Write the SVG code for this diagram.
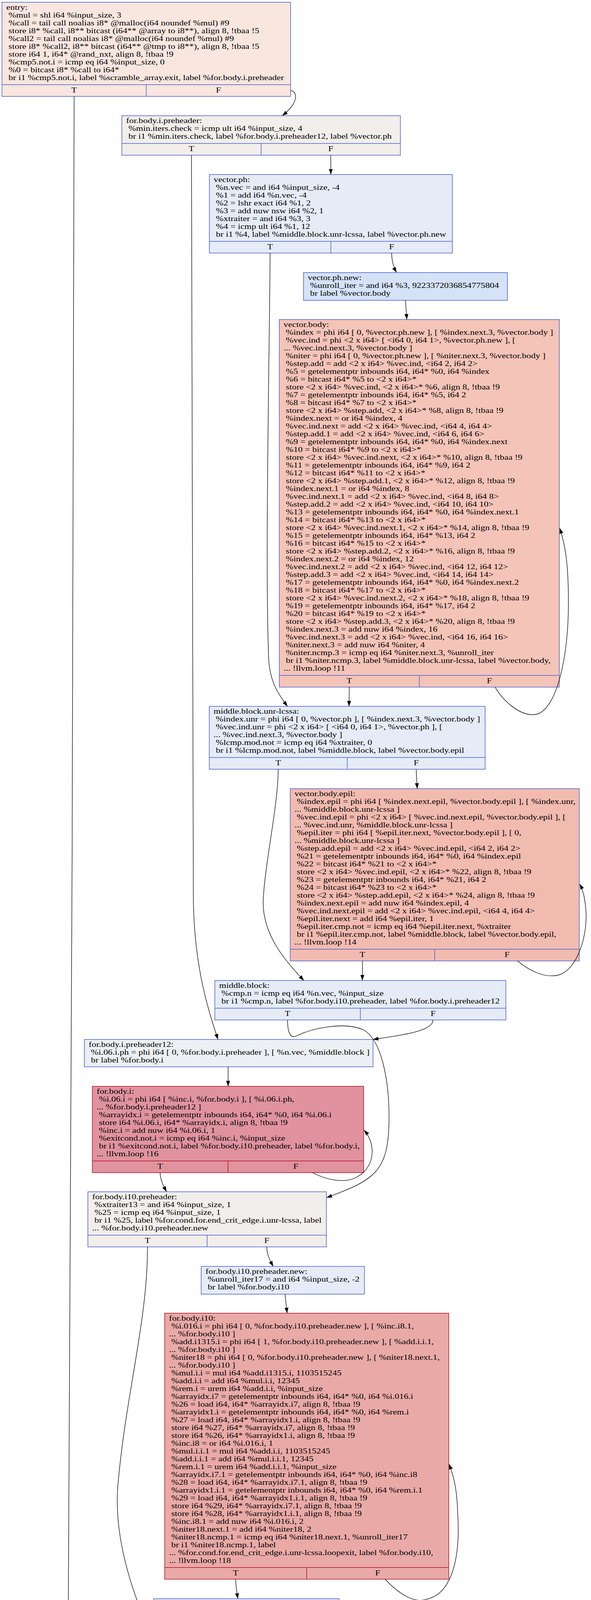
<svg xmlns="http://www.w3.org/2000/svg" width="1513" height="5031" viewBox="0 0 1513 5031">
<style>
.t{font-family:"Liberation Serif","Times New Roman",serif;font-size:18.67px;fill:#000}
.p{font-family:"Liberation Serif","Times New Roman",serif;font-size:18.67px;fill:#000;text-anchor:middle}
.b{stroke:#4b5fcf;stroke-width:1.5}
.h{stroke:#b70d28;stroke-width:1.5}
.s{fill:none}
.e{fill:none;stroke:#000;stroke-width:1.3;marker-end:url(#ah)}
</style>
<defs>
<marker id="ah" markerUnits="userSpaceOnUse" markerWidth="14" markerHeight="10" refX="14" refY="5" orient="auto"><path d="M0,0L14,5L0,10z" fill="#000"/></marker>
</defs>
<rect x="0" y="0" width="1513" height="5031" fill="#fff"/>

<g id="entry">
<rect class="b" x="5" y="5.7" width="739" height="241" fill="#f8e6df"/>
<path class="b s" d="M5,216.7H744M374.5,216.7V246.7"/>
<g transform="translate(16,0) scale(1.2536,1)"><text class="t">
<tspan x="0" y="24.9">entry:</tspan>
<tspan x="4.67" y="44.9">%mul = shl i64 %input_size, 3</tspan>
<tspan x="4.67" y="64.9">%call = tail call noalias i8* @malloc(i64 noundef %mul) #9</tspan>
<tspan x="4.67" y="84.9">store i8* %call, i8** bitcast (i64** @array to i8**), align 8, !tbaa !5</tspan>
<tspan x="4.67" y="104.9">%call2 = tail call noalias i8* @malloc(i64 noundef %mul) #9</tspan>
<tspan x="4.67" y="124.9">store i8* %call2, i8** bitcast (i64** @tmp to i8**), align 8, !tbaa !5</tspan>
<tspan x="4.67" y="144.9">store i64 1, i64* @rand_nxt, align 8, !tbaa !9</tspan>
<tspan x="4.67" y="164.9">%cmp5.not.i = icmp eq i64 %input_size, 0</tspan>
<tspan x="4.67" y="184.9">%0 = bitcast i8* %call to i64*</tspan>
<tspan x="4.67" y="204.9">br i1 %cmp5.not.i, label %scramble_array.exit, label %for.body.i.preheader</tspan>
</text></g>
<text class="p" transform="translate(189.75,236.7) scale(1.2536,1)">T</text>
<text class="p" transform="translate(559.25,236.7) scale(1.2536,1)">F</text>
</g>

<g id="for.body.i.preheader">
<rect class="b" x="312" y="296.3" width="713" height="101" fill="#f2eeeb"/>
<path class="b s" d="M312,367.3H1025M668.5,367.3V397.3"/>
<g transform="translate(323,0) scale(1.2536,1)"><text class="t">
<tspan x="0" y="315.5">for.body.i.preheader:</tspan>
<tspan x="4.67" y="335.5">%min.iters.check = icmp ult i64 %input_size, 4</tspan>
<tspan x="4.67" y="355.5">br i1 %min.iters.check, label %for.body.i.preheader12, label %vector.ph</tspan>
</text></g>
<text class="p" transform="translate(490.25,387.3) scale(1.2536,1)">T</text>
<text class="p" transform="translate(846.75,387.3) scale(1.2536,1)">F</text>
</g>

<g id="vector.ph">
<rect class="b" x="536" y="446.7" width="622" height="201" fill="#e5ecf7"/>
<path class="b s" d="M536,617.7H1158M847,617.7V647.7"/>
<g transform="translate(547,0) scale(1.2536,1)"><text class="t">
<tspan x="0" y="465.9">vector.ph:</tspan>
<tspan x="4.67" y="485.9">%n.vec = and i64 %input_size, -4</tspan>
<tspan x="4.67" y="505.9">%1 = add i64 %n.vec, -4</tspan>
<tspan x="4.67" y="525.9">%2 = lshr exact i64 %1, 2</tspan>
<tspan x="4.67" y="545.9">%3 = add nuw nsw i64 %2, 1</tspan>
<tspan x="4.67" y="565.9">%xtraiter = and i64 %3, 3</tspan>
<tspan x="4.67" y="585.9">%4 = icmp ult i64 %1, 12</tspan>
<tspan x="4.67" y="605.9">br i1 %4, label %middle.block.unr-lcssa, label %vector.ph.new</tspan>
</text></g>
<text class="p" transform="translate(691.5,637.7) scale(1.2536,1)">T</text>
<text class="p" transform="translate(1002.5,637.7) scale(1.2536,1)">F</text>
</g>

<g id="vector.ph.new">
<rect class="b" x="777" y="697.7" width="522" height="71" fill="#d5e2f8"/>
<g transform="translate(788,0) scale(1.2536,1)"><text class="t">
<tspan x="0" y="716.9">vector.ph.new:</tspan>
<tspan x="4.67" y="736.9">%unroll_iter = and i64 %3, 9223372036854775804</tspan>
<tspan x="4.67" y="756.9">br label %vector.body</tspan>
</text></g>
</g>

<g id="vector.body">
<rect class="b" x="715" y="818" width="717" height="941" fill="#f5c4b8"/>
<path class="b s" d="M715,1729H1432M1073.5,1729V1759"/>
<g transform="translate(726,0) scale(1.2536,1)"><text class="t">
<tspan x="0" y="837.2">vector.body:</tspan>
<tspan x="4.67" y="857.2">%index = phi i64 [ 0, %vector.ph.new ], [ %index.next.3, %vector.body ]</tspan>
<tspan x="4.67" y="877.2">%vec.ind = phi &lt;2 x i64&gt; [ &lt;i64 0, i64 1&gt;, %vector.ph.new ], [</tspan>
<tspan x="0" y="897.2">... %vec.ind.next.3, %vector.body ]</tspan>
<tspan x="4.67" y="917.2">%niter = phi i64 [ 0, %vector.ph.new ], [ %niter.next.3, %vector.body ]</tspan>
<tspan x="4.67" y="937.2">%step.add = add &lt;2 x i64&gt; %vec.ind, &lt;i64 2, i64 2&gt;</tspan>
<tspan x="4.67" y="957.2">%5 = getelementptr inbounds i64, i64* %0, i64 %index</tspan>
<tspan x="4.67" y="977.2">%6 = bitcast i64* %5 to &lt;2 x i64&gt;*</tspan>
<tspan x="4.67" y="997.2">store &lt;2 x i64&gt; %vec.ind, &lt;2 x i64&gt;* %6, align 8, !tbaa !9</tspan>
<tspan x="4.67" y="1017.2">%7 = getelementptr inbounds i64, i64* %5, i64 2</tspan>
<tspan x="4.67" y="1037.2">%8 = bitcast i64* %7 to &lt;2 x i64&gt;*</tspan>
<tspan x="4.67" y="1057.2">store &lt;2 x i64&gt; %step.add, &lt;2 x i64&gt;* %8, align 8, !tbaa !9</tspan>
<tspan x="4.67" y="1077.2">%index.next = or i64 %index, 4</tspan>
<tspan x="4.67" y="1097.2">%vec.ind.next = add &lt;2 x i64&gt; %vec.ind, &lt;i64 4, i64 4&gt;</tspan>
<tspan x="4.67" y="1117.2">%step.add.1 = add &lt;2 x i64&gt; %vec.ind, &lt;i64 6, i64 6&gt;</tspan>
<tspan x="4.67" y="1137.2">%9 = getelementptr inbounds i64, i64* %0, i64 %index.next</tspan>
<tspan x="4.67" y="1157.2">%10 = bitcast i64* %9 to &lt;2 x i64&gt;*</tspan>
<tspan x="4.67" y="1177.2">store &lt;2 x i64&gt; %vec.ind.next, &lt;2 x i64&gt;* %10, align 8, !tbaa !9</tspan>
<tspan x="4.67" y="1197.2">%11 = getelementptr inbounds i64, i64* %9, i64 2</tspan>
<tspan x="4.67" y="1217.2">%12 = bitcast i64* %11 to &lt;2 x i64&gt;*</tspan>
<tspan x="4.67" y="1237.2">store &lt;2 x i64&gt; %step.add.1, &lt;2 x i64&gt;* %12, align 8, !tbaa !9</tspan>
<tspan x="4.67" y="1257.2">%index.next.1 = or i64 %index, 8</tspan>
<tspan x="4.67" y="1277.2">%vec.ind.next.1 = add &lt;2 x i64&gt; %vec.ind, &lt;i64 8, i64 8&gt;</tspan>
<tspan x="4.67" y="1297.2">%step.add.2 = add &lt;2 x i64&gt; %vec.ind, &lt;i64 10, i64 10&gt;</tspan>
<tspan x="4.67" y="1317.2">%13 = getelementptr inbounds i64, i64* %0, i64 %index.next.1</tspan>
<tspan x="4.67" y="1337.2">%14 = bitcast i64* %13 to &lt;2 x i64&gt;*</tspan>
<tspan x="4.67" y="1357.2">store &lt;2 x i64&gt; %vec.ind.next.1, &lt;2 x i64&gt;* %14, align 8, !tbaa !9</tspan>
<tspan x="4.67" y="1377.2">%15 = getelementptr inbounds i64, i64* %13, i64 2</tspan>
<tspan x="4.67" y="1397.2">%16 = bitcast i64* %15 to &lt;2 x i64&gt;*</tspan>
<tspan x="4.67" y="1417.2">store &lt;2 x i64&gt; %step.add.2, &lt;2 x i64&gt;* %16, align 8, !tbaa !9</tspan>
<tspan x="4.67" y="1437.2">%index.next.2 = or i64 %index, 12</tspan>
<tspan x="4.67" y="1457.2">%vec.ind.next.2 = add &lt;2 x i64&gt; %vec.ind, &lt;i64 12, i64 12&gt;</tspan>
<tspan x="4.67" y="1477.2">%step.add.3 = add &lt;2 x i64&gt; %vec.ind, &lt;i64 14, i64 14&gt;</tspan>
<tspan x="4.67" y="1497.2">%17 = getelementptr inbounds i64, i64* %0, i64 %index.next.2</tspan>
<tspan x="4.67" y="1517.2">%18 = bitcast i64* %17 to &lt;2 x i64&gt;*</tspan>
<tspan x="4.67" y="1537.2">store &lt;2 x i64&gt; %vec.ind.next.2, &lt;2 x i64&gt;* %18, align 8, !tbaa !9</tspan>
<tspan x="4.67" y="1557.2">%19 = getelementptr inbounds i64, i64* %17, i64 2</tspan>
<tspan x="4.67" y="1577.2">%20 = bitcast i64* %19 to &lt;2 x i64&gt;*</tspan>
<tspan x="4.67" y="1597.2">store &lt;2 x i64&gt; %step.add.3, &lt;2 x i64&gt;* %20, align 8, !tbaa !9</tspan>
<tspan x="4.67" y="1617.2">%index.next.3 = add nuw i64 %index, 16</tspan>
<tspan x="4.67" y="1637.2">%vec.ind.next.3 = add &lt;2 x i64&gt; %vec.ind, &lt;i64 16, i64 16&gt;</tspan>
<tspan x="4.67" y="1657.2">%niter.next.3 = add nuw i64 %niter, 4</tspan>
<tspan x="4.67" y="1677.2">%niter.ncmp.3 = icmp eq i64 %niter.next.3, %unroll_iter</tspan>
<tspan x="4.67" y="1697.2">br i1 %niter.ncmp.3, label %middle.block.unr-lcssa, label %vector.body,</tspan>
<tspan x="0" y="1717.2">... !llvm.loop !11</tspan>
</text></g>
<text class="p" transform="translate(894.25,1749) scale(1.2536,1)">T</text>
<text class="p" transform="translate(1252.75,1749) scale(1.2536,1)">F</text>
</g>

<g id="middle.block.unr-lcssa">
<rect class="b" x="535.7" y="1808.3" width="706.3" height="161" fill="#e5ecf7"/>
<path class="b s" d="M535.7,1939.3H1242M888.85,1939.3V1969.3"/>
<g transform="translate(546.7,0) scale(1.2536,1)"><text class="t">
<tspan x="0" y="1827.5">middle.block.unr-lcssa:</tspan>
<tspan x="4.67" y="1847.5">%index.unr = phi i64 [ 0, %vector.ph ], [ %index.next.3, %vector.body ]</tspan>
<tspan x="4.67" y="1867.5">%vec.ind.unr = phi &lt;2 x i64&gt; [ &lt;i64 0, i64 1&gt;, %vector.ph ], [</tspan>
<tspan x="0" y="1887.5">... %vec.ind.next.3, %vector.body ]</tspan>
<tspan x="4.67" y="1907.5">%lcmp.mod.not = icmp eq i64 %xtraiter, 0</tspan>
<tspan x="4.67" y="1927.5">br i1 %lcmp.mod.not, label %middle.block, label %vector.body.epil</tspan>
</text></g>
<text class="p" transform="translate(712.3,1959.3) scale(1.2536,1)">T</text>
<text class="p" transform="translate(1065.4,1959.3) scale(1.2536,1)">F</text>
</g>

<g id="vector.body.epil">
<rect class="b" x="743" y="2019" width="740" height="441" fill="#f2bbb0"/>
<path class="b s" d="M743,2430H1483M1113,2430V2460"/>
<g transform="translate(754,0) scale(1.2536,1)"><text class="t">
<tspan x="0" y="2038.2">vector.body.epil:</tspan>
<tspan x="4.67" y="2058.2">%index.epil = phi i64 [ %index.next.epil, %vector.body.epil ], [ %index.unr,</tspan>
<tspan x="0" y="2078.2">... %middle.block.unr-lcssa ]</tspan>
<tspan x="4.67" y="2098.2">%vec.ind.epil = phi &lt;2 x i64&gt; [ %vec.ind.next.epil, %vector.body.epil ], [</tspan>
<tspan x="0" y="2118.2">... %vec.ind.unr, %middle.block.unr-lcssa ]</tspan>
<tspan x="4.67" y="2138.2">%epil.iter = phi i64 [ %epil.iter.next, %vector.body.epil ], [ 0,</tspan>
<tspan x="0" y="2158.2">... %middle.block.unr-lcssa ]</tspan>
<tspan x="4.67" y="2178.2">%step.add.epil = add &lt;2 x i64&gt; %vec.ind.epil, &lt;i64 2, i64 2&gt;</tspan>
<tspan x="4.67" y="2198.2">%21 = getelementptr inbounds i64, i64* %0, i64 %index.epil</tspan>
<tspan x="4.67" y="2218.2">%22 = bitcast i64* %21 to &lt;2 x i64&gt;*</tspan>
<tspan x="4.67" y="2238.2">store &lt;2 x i64&gt; %vec.ind.epil, &lt;2 x i64&gt;* %22, align 8, !tbaa !9</tspan>
<tspan x="4.67" y="2258.2">%23 = getelementptr inbounds i64, i64* %21, i64 2</tspan>
<tspan x="4.67" y="2278.2">%24 = bitcast i64* %23 to &lt;2 x i64&gt;*</tspan>
<tspan x="4.67" y="2298.2">store &lt;2 x i64&gt; %step.add.epil, &lt;2 x i64&gt;* %24, align 8, !tbaa !9</tspan>
<tspan x="4.67" y="2318.2">%index.next.epil = add nuw i64 %index.epil, 4</tspan>
<tspan x="4.67" y="2338.2">%vec.ind.next.epil = add &lt;2 x i64&gt; %vec.ind.epil, &lt;i64 4, i64 4&gt;</tspan>
<tspan x="4.67" y="2358.2">%epil.iter.next = add i64 %epil.iter, 1</tspan>
<tspan x="4.67" y="2378.2">%epil.iter.cmp.not = icmp eq i64 %epil.iter.next, %xtraiter</tspan>
<tspan x="4.67" y="2398.2">br i1 %epil.iter.cmp.not, label %middle.block, label %vector.body.epil,</tspan>
<tspan x="0" y="2418.2">... !llvm.loop !14</tspan>
</text></g>
<text class="p" transform="translate(928,2450) scale(1.2536,1)">T</text>
<text class="p" transform="translate(1298,2450) scale(1.2536,1)">F</text>
</g>

<g id="middle.block">
<rect class="b" x="550" y="2510" width="745" height="101" fill="#e5ecf7"/>
<path class="b s" d="M550,2581H1295M922.5,2581V2611"/>
<g transform="translate(561,0) scale(1.2536,1)"><text class="t">
<tspan x="0" y="2529.2">middle.block:</tspan>
<tspan x="4.67" y="2549.2">%cmp.n = icmp eq i64 %n.vec, %input_size</tspan>
<tspan x="4.67" y="2569.2">br i1 %cmp.n, label %for.body.i10.preheader, label %for.body.i.preheader12</tspan>
</text></g>
<text class="p" transform="translate(736.25,2601) scale(1.2536,1)">T</text>
<text class="p" transform="translate(1108.75,2601) scale(1.2536,1)">F</text>
</g>

<g id="for.body.i.preheader12">
<rect class="b" x="216" y="2661" width="739" height="70" fill="#ecf0f4"/>
<g transform="translate(227,0) scale(1.2536,1)"><text class="t">
<tspan x="0" y="2680.2">for.body.i.preheader12:</tspan>
<tspan x="4.67" y="2700.2">%i.06.i.ph = phi i64 [ 0, %for.body.i.preheader ], [ %n.vec, %middle.block ]</tspan>
<tspan x="4.67" y="2720.2">br label %for.body.i</tspan>
</text></g>
</g>

<g id="for.body.i">
<rect class="h" x="236.4" y="2781" width="694.6" height="221" fill="#e0939f"/>
<path class="h s" d="M236.4,2972H931M583.7,2972V3002"/>
<g transform="translate(247.4,0) scale(1.2536,1)"><text class="t">
<tspan x="0" y="2800.2">for.body.i:</tspan>
<tspan x="4.67" y="2820.2">%i.06.i = phi i64 [ %inc.i, %for.body.i ], [ %i.06.i.ph,</tspan>
<tspan x="0" y="2840.2">... %for.body.i.preheader12 ]</tspan>
<tspan x="4.67" y="2860.2">%arrayidx.i = getelementptr inbounds i64, i64* %0, i64 %i.06.i</tspan>
<tspan x="4.67" y="2880.2">store i64 %i.06.i, i64* %arrayidx.i, align 8, !tbaa !9</tspan>
<tspan x="4.67" y="2900.2">%inc.i = add nuw i64 %i.06.i, 1</tspan>
<tspan x="4.67" y="2920.2">%exitcond.not.i = icmp eq i64 %inc.i, %input_size</tspan>
<tspan x="4.67" y="2940.2">br i1 %exitcond.not.i, label %for.body.i10.preheader, label %for.body.i,</tspan>
<tspan x="0" y="2960.2">... !llvm.loop !16</tspan>
</text></g>
<text class="p" transform="translate(410,2992) scale(1.2536,1)">T</text>
<text class="p" transform="translate(757.35,2992) scale(1.2536,1)">F</text>
</g>

<g id="for.body.i10.preheader">
<rect class="b" x="225" y="3051" width="610.5" height="141" fill="#f2eeeb"/>
<path class="b s" d="M225,3162H835.5M530.25,3162V3192"/>
<g transform="translate(236,0) scale(1.2536,1)"><text class="t">
<tspan x="0" y="3070.2">for.body.i10.preheader:</tspan>
<tspan x="4.67" y="3090.2">%xtraiter13 = and i64 %input_size, 1</tspan>
<tspan x="4.67" y="3110.2">%25 = icmp eq i64 %input_size, 1</tspan>
<tspan x="4.67" y="3130.2">br i1 %25, label %for.cond.for.end_crit_edge.i.unr-lcssa, label</tspan>
<tspan x="0" y="3150.2">... %for.body.i10.preheader.new</tspan>
</text></g>
<text class="p" transform="translate(377.6,3182) scale(1.2536,1)">T</text>
<text class="p" transform="translate(682.9,3182) scale(1.2536,1)">F</text>
</g>

<g id="for.body.i10.preheader.new">
<rect class="b" x="515" y="3242" width="418" height="71" fill="#e5ecf7"/>
<g transform="translate(526,0) scale(1.2536,1)"><text class="t">
<tspan x="0" y="3261.2">for.body.i10.preheader.new:</tspan>
<tspan x="4.67" y="3281.2">%unroll_iter17 = and i64 %input_size, -2</tspan>
<tspan x="4.67" y="3301.2">br label %for.body.i10</tspan>
</text></g>
</g>

<g id="for.body.i10">
<rect class="h" x="421.6" y="3361.7" width="727.2" height="681" fill="#e9aaa7"/>
<path class="h s" d="M421.6,4012.7H1148.8M785.2,4012.7V4042.7"/>
<g transform="translate(432.6,0) scale(1.2536,1)"><text class="t">
<tspan x="0" y="3380.9">for.body.i10:</tspan>
<tspan x="4.67" y="3400.9">%i.016.i = phi i64 [ 0, %for.body.i10.preheader.new ], [ %inc.i8.1,</tspan>
<tspan x="0" y="3420.9">... %for.body.i10 ]</tspan>
<tspan x="4.67" y="3440.9">%add.i1315.i = phi i64 [ 1, %for.body.i10.preheader.new ], [ %add.i.i.1,</tspan>
<tspan x="0" y="3460.9">... %for.body.i10 ]</tspan>
<tspan x="4.67" y="3480.9">%niter18 = phi i64 [ 0, %for.body.i10.preheader.new ], [ %niter18.next.1,</tspan>
<tspan x="0" y="3500.9">... %for.body.i10 ]</tspan>
<tspan x="4.67" y="3520.9">%mul.i.i = mul i64 %add.i1315.i, 1103515245</tspan>
<tspan x="4.67" y="3540.9">%add.i.i = add i64 %mul.i.i, 12345</tspan>
<tspan x="4.67" y="3560.9">%rem.i = urem i64 %add.i.i, %input_size</tspan>
<tspan x="4.67" y="3580.9">%arrayidx.i7 = getelementptr inbounds i64, i64* %0, i64 %i.016.i</tspan>
<tspan x="4.67" y="3600.9">%26 = load i64, i64* %arrayidx.i7, align 8, !tbaa !9</tspan>
<tspan x="4.67" y="3620.9">%arrayidx1.i = getelementptr inbounds i64, i64* %0, i64 %rem.i</tspan>
<tspan x="4.67" y="3640.9">%27 = load i64, i64* %arrayidx1.i, align 8, !tbaa !9</tspan>
<tspan x="4.67" y="3660.9">store i64 %27, i64* %arrayidx.i7, align 8, !tbaa !9</tspan>
<tspan x="4.67" y="3680.9">store i64 %26, i64* %arrayidx1.i, align 8, !tbaa !9</tspan>
<tspan x="4.67" y="3700.9">%inc.i8 = or i64 %i.016.i, 1</tspan>
<tspan x="4.67" y="3720.9">%mul.i.i.1 = mul i64 %add.i.i, 1103515245</tspan>
<tspan x="4.67" y="3740.9">%add.i.i.1 = add i64 %mul.i.i.1, 12345</tspan>
<tspan x="4.67" y="3760.9">%rem.i.1 = urem i64 %add.i.i.1, %input_size</tspan>
<tspan x="4.67" y="3780.9">%arrayidx.i7.1 = getelementptr inbounds i64, i64* %0, i64 %inc.i8</tspan>
<tspan x="4.67" y="3800.9">%28 = load i64, i64* %arrayidx.i7.1, align 8, !tbaa !9</tspan>
<tspan x="4.67" y="3820.9">%arrayidx1.i.1 = getelementptr inbounds i64, i64* %0, i64 %rem.i.1</tspan>
<tspan x="4.67" y="3840.9">%29 = load i64, i64* %arrayidx1.i.1, align 8, !tbaa !9</tspan>
<tspan x="4.67" y="3860.9">store i64 %29, i64* %arrayidx.i7.1, align 8, !tbaa !9</tspan>
<tspan x="4.67" y="3880.9">store i64 %28, i64* %arrayidx1.i.1, align 8, !tbaa !9</tspan>
<tspan x="4.67" y="3900.9">%inc.i8.1 = add nuw i64 %i.016.i, 2</tspan>
<tspan x="4.67" y="3920.9">%niter18.next.1 = add i64 %niter18, 2</tspan>
<tspan x="4.67" y="3940.9">%niter18.ncmp.1 = icmp eq i64 %niter18.next.1, %unroll_iter17</tspan>
<tspan x="4.67" y="3960.9">br i1 %niter18.ncmp.1, label</tspan>
<tspan x="0" y="3980.9">... %for.cond.for.end_crit_edge.i.unr-lcssa.loopexit, label %for.body.i10,</tspan>
<tspan x="0" y="4000.9">... !llvm.loop !18</tspan>
</text></g>
<text class="p" transform="translate(603.4,4032.7) scale(1.2536,1)">T</text>
<text class="p" transform="translate(967,4032.7) scale(1.2536,1)">F</text>
</g>

<g id="for.cond.for.end_crit_edge.i.unr-lcssa.loopexit">
<rect class="b" x="393" y="4092.7" width="475" height="90" fill="#e5ecf7"/>
<g transform="translate(404,0) scale(1.2536,1)"><text class="t">
<tspan x="0" y="4111.9">for.cond.for.end_crit_edge.i.unr-lcssa.loopexit:</tspan>
<tspan x="4.67" y="4131.9">%phi.bo = mul i64 %add.i.i.1, 1103515245</tspan>
<tspan x="4.67" y="4151.9">%phi.bo19 = add i64 %phi.bo, 12345</tspan>
<tspan x="4.67" y="4171.9">br label %for.cond.for.end_crit_edge.i.unr-lcssa</tspan>
</text></g>
</g>

<g id="for.cond.for.end_crit_edge.i.unr-lcssa">
<rect class="b" x="259" y="4232.7" width="700.7" height="241" fill="#f2eeeb"/>
<path class="b s" d="M259,4443.7H959.7M609.35,4443.7V4473.7"/>
<g transform="translate(270,0) scale(1.2536,1)"><text class="t">
<tspan x="0" y="4251.9">for.cond.for.end_crit_edge.i.unr-lcssa:</tspan>
<tspan x="4.67" y="4271.9">%add.i.i.lcssa.ph = phi i64 [ undef, %for.body.i10.preheader ], [</tspan>
<tspan x="0" y="4291.9">... %add.i.i.1, %for.cond.for.end_crit_edge.i.unr-lcssa.loopexit ]</tspan>
<tspan x="4.67" y="4311.9">%i.016.i.unr = phi i64 [ 0, %for.body.i10.preheader ], [ %inc.i8.1,</tspan>
<tspan x="0" y="4331.9">... %for.cond.for.end_crit_edge.i.unr-lcssa.loopexit ]</tspan>
<tspan x="4.67" y="4351.9">%add.i1315.i.unr = phi i64 [ 1103527590, %for.body.i10.preheader ], [</tspan>
<tspan x="0" y="4371.9">... %phi.bo19, %for.cond.for.end_crit_edge.i.unr-lcssa.loopexit ]</tspan>
<tspan x="4.67" y="4391.9">%lcmp.mod15.not = icmp eq i64 %xtraiter13, 0</tspan>
<tspan x="4.67" y="4411.9">br i1 %lcmp.mod15.not, label %for.cond.for.end_crit_edge.i, label</tspan>
<tspan x="0" y="4431.9">... %for.body.i10.epil</tspan>
</text></g>
<text class="p" transform="translate(434.2,4463.7) scale(1.2536,1)">T</text>
<text class="p" transform="translate(784.5,4463.7) scale(1.2536,1)">F</text>
</g>

<g id="for.body.i10.epil">
<rect class="b" x="443.4" y="4523.3" width="737.6" height="190.7" fill="#e5ecf7"/>
<g transform="translate(454.4,0) scale(1.2536,1)"><text class="t">
<tspan x="0" y="4542.5">for.body.i10.epil:</tspan>
<tspan x="4.67" y="4562.5">%rem.i.epil = urem i64 %add.i1315.i.unr, %input_size</tspan>
<tspan x="4.67" y="4582.5">%arrayidx.i7.epil = getelementptr inbounds i64, i64* %0, i64 %i.016.i.unr</tspan>
<tspan x="4.67" y="4602.5">%30 = load i64, i64* %arrayidx.i7.epil, align 8, !tbaa !9</tspan>
<tspan x="4.67" y="4622.5">%arrayidx1.i.epil = getelementptr inbounds i64, i64* %0, i64 %rem.i.epil</tspan>
<tspan x="4.67" y="4642.5">%31 = load i64, i64* %arrayidx1.i.epil, align 8, !tbaa !9</tspan>
<tspan x="4.67" y="4662.5">store i64 %31, i64* %arrayidx.i7.epil, align 8, !tbaa !9</tspan>
<tspan x="4.67" y="4682.5">store i64 %30, i64* %arrayidx1.i.epil, align 8, !tbaa !9</tspan>
<tspan x="4.67" y="4702.5">br label %for.cond.for.end_crit_edge.i</tspan>
</text></g>
</g>

<g id="for.cond.for.end_crit_edge.i">
<rect class="b" x="215.6" y="4762.7" width="619.1" height="131" fill="#f2eeeb"/>
<g transform="translate(226.6,0) scale(1.2536,1)"><text class="t">
<tspan x="0" y="4781.9">for.cond.for.end_crit_edge.i:</tspan>
<tspan x="4.67" y="4801.9">%add.i.i.lcssa = phi i64 [ %add.i.i.lcssa.ph,</tspan>
<tspan x="0" y="4821.9">... %for.cond.for.end_crit_edge.i.unr-lcssa ], [ %add.i1315.i.unr,</tspan>
<tspan x="0" y="4841.9">... %for.body.i10.epil ]</tspan>
<tspan x="4.67" y="4861.9">store i64 %add.i.i.lcssa, i64* @rand_nxt, align 8, !tbaa !9</tspan>
<tspan x="4.67" y="4881.9">br label %scramble_array.exit</tspan>
</text></g>
</g>

<g id="scramble_array.exit">
<rect class="b" x="242" y="4943" width="219.7" height="51" fill="#f8e6df"/>
<g transform="translate(253,0) scale(1.2536,1)"><text class="t">
<tspan x="0" y="4962.2">scramble_array.exit:</tspan>
<tspan x="4.67" y="4982.2">ret void</tspan>
</text></g>
</g>

<g id="edges">
<path class="e" d="M189.75,246.7C188,1500 178,4300 172,4690C168,4830 205,4905 264.5,4943"/>
<path class="e" d="M744,231.7C762,234 766,262 722.5,296.3"/>
<path class="e" d="M490.25,397.3C492,1200 494,2100 495,2300C497,2480 535,2590 558,2661"/>
<path class="e" d="M846.75,397.3L846.9,446.7"/>
<path class="e" d="M691.5,647.7C690,900 678,1450 688,1690C692,1750 715,1780 736,1808.3"/>
<path class="e" d="M1002.5,647.7C1003,670 1008,685 1015.4,697.7"/>
<path class="e" d="M1038,768.7L1041.5,818"/>
<path class="e" d="M894.25,1759L893.5,1808.3"/>
<path class="e" d="M1267.5,1759C1285,1790 1330,1835 1371,1829C1425,1820 1458,1680 1455,1520C1454,1440 1447,1395 1433,1352"/>
<path class="e" d="M712.3,1969.3C712,2060 680,2200 674,2300C669,2390 730,2460 778,2510"/>
<path class="e" d="M1065.4,1969.3L1068,2019"/>
<path class="e" d="M928,2460L927.5,2510"/>
<path class="e" d="M1325,2460C1355,2485 1395,2505 1430,2496C1480,2482 1505,2390 1500,2330C1497,2295 1492,2278 1484,2263"/>
<path class="e" d="M1108.75,2611C1108,2640 1030,2650 955,2661"/>
<path class="e" d="M736.25,2611C736,2640 742,2660 759,2652C800,2632 880,2615 930,2636C975,2660 996,2760 996,2860C996,3000 960,3020 836,3066"/>
<path class="e" d="M584,2731L584,2781"/>
<path class="e" d="M410,3002C410,3020 418,3035 426.5,3051"/>
<path class="e" d="M800,3002C835,3020 880,3030 910,3015C955,2995 968,2935 932,2893"/>
<path class="e" d="M682.9,3192C683,3210 690,3225 699.5,3242"/>
<path class="e" d="M377.6,3192C378,3380 322,3570 302,3800C288,3960 360,4140 414,4233"/>
<path class="e" d="M729.6,3313L735,3361.7"/>
<path class="e" d="M603.4,4042.7C603.5,4060 606,4075 609,4092.7"/>
<path class="e" d="M986,4042.7C1020,4080 1060,4105 1092,4094C1160,4080 1178,3980 1172,3880C1170,3810 1162,3780 1149.5,3748"/>
<path class="e" d="M625.7,4182.7L621.5,4232.7"/>
<path class="e" d="M784.5,4473.7L789,4523.3"/>
<path class="e" d="M434.2,4473.7C433,4560 405,4620 421,4690C428,4722 442,4742 458,4762.7"/>
<path class="e" d="M681,4714L614,4762.7"/>
<path class="e" d="M444,4893.7L386,4943"/>
</g>

<text class="p" transform="translate(756.5,5014) scale(1.2536,1)">CFG for 'sort_init' function</text>
</svg>
